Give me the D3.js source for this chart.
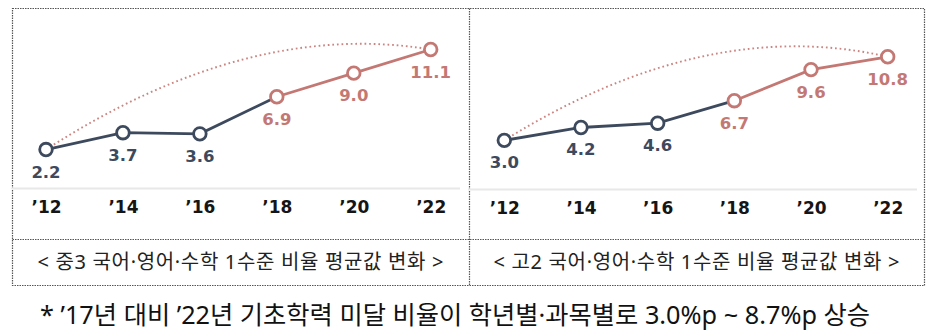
<!DOCTYPE html>
<html><head><meta charset="utf-8">
<script src="https://cdn.jsdelivr.net/npm/d3@7"></script>
<style>
html,body{margin:0;padding:0;background:#fff;}
svg{display:block;}
</style></head>
<body>
<svg id="c" width="936" height="335"></svg>
<script>
const years = ["’12","’14","’16","’18","’20","’22"];
const middle3 = [2.2, 3.7, 3.6, 6.9, 9.0, 11.1];
const high2 = [3.0, 4.2, 4.6, 6.7, 9.6, 10.8];
const captions = ["< 중3 국어·영어·수학 1수준 비율 평균값 변화 >", "< 고2 국어·영어·수학 1수준 비율 평균값 변화 >"];
const arcPeak = [13.8, 14.7];
const footnote = "* ’17년 대비 ’22년 기초학력 미달 비율이 학년별·과목별로 3.0%p ~ 8.7%p 상승";
const splitIndex = 3; // from '18 on, highlighted colour

const NAVY = "#3d4a5e", PINK = "#c47873";
const KFONT = "'Noto Sans', 'Noto Sans CJK KR', sans-serif";
const svg = d3.select("#c");

// frame
const frame = svg.append("g").attr("fill","none").attr("stroke","#555").attr("stroke-width",1.2).attr("stroke-dasharray","1.5 1");
frame.append("rect").attr("x",12.5).attr("y",8.5).attr("width",912).attr("height",277);
frame.append("line").attr("x1",469.5).attr("x2",469.5).attr("y1",8.5).attr("y2",285.5);
frame.append("line").attr("x1",12.5).attr("x2",924.5).attr("y1",239.5).attr("y2",239.5);

const panels = [
  {data: middle3, x0: 46, x1: 430.7, y0: 174.3, y12: 39.4, left: 12, right: 460, base: 188.5, cx: 240.5, cap: captions[0], peak: arcPeak[0]},
  {data: high2, x0: 504.3, x1: 887.7, y0: 172.5, y12: 43.9, left: 468, right: 917, base: 189.5, cx: 696.5, cap: captions[1], peak: arcPeak[1]}
];

panels.forEach(p => {
  const g = svg.append("g");
  const x = d3.scalePoint().domain(years).range([p.x0, p.x1]);
  const y = d3.scaleLinear().domain([0, 12]).range([p.y0, p.y12]);
  const pts = years.map((yr, i) => ({yr, v: p.data[i], i}));

  // baseline
  g.append("line").attr("x1", p.left).attr("x2", p.right).attr("y1", p.base).attr("y2", p.base)
    .attr("stroke", "#e8e8e8").attr("stroke-width", 2);

  // x axis labels
  const ax = d3.axisBottom(x).tickSize(0).tickPadding(0);
  const axg = g.append("g").attr("transform", `translate(0,${p.base})`).call(ax);
  axg.select(".domain").remove();
  axg.selectAll("text").attr("dy", null).attr("y", 24.5)
    .attr("font-family", "DejaVu Sans").attr("font-weight", "bold").attr("font-size", 17).attr("fill", "#151515");

  // dotted arc
  const s = pts[0], e = pts[pts.length - 1];
  const path = d3.path();
  path.moveTo(x(s.yr), y(s.v));
  path.quadraticCurveTo((x(s.yr) + x(e.yr)) / 2 + 10, y(p.peak), x(e.yr), y(e.v));
  g.append("path").attr("d", path.toString()).attr("fill", "none").attr("stroke", PINK)
    .attr("stroke-width", 1.9).attr("stroke-dasharray", "1.7 2.9").attr("opacity", 0.9);

  // lines
  const line = d3.line().x(d => x(d.yr)).y(d => y(d.v));
  g.append("path").attr("d", line(pts.slice(0, splitIndex + 1))).attr("fill", "none").attr("stroke", NAVY).attr("stroke-width", 2.8);
  g.append("path").attr("d", line(pts.slice(splitIndex))).attr("fill", "none").attr("stroke", PINK).attr("stroke-width", 2.8);

  // points
  g.selectAll("circle.pt").data(pts).join("circle").attr("class", "pt")
    .attr("cx", d => x(d.yr)).attr("cy", d => y(d.v)).attr("r", 6.3)
    .attr("fill", "#fff").attr("stroke", d => d.i >= splitIndex ? PINK : NAVY).attr("stroke-width", 2.8);

  // value labels
  g.selectAll("text.val").data(pts).join("text").attr("class", "val")
    .attr("x", d => x(d.yr)).attr("y", d => y(d.v) + 28)
    .attr("text-anchor", "middle").attr("font-family", "DejaVu Sans").attr("font-weight", "bold")
    .attr("font-size", 16.5).attr("fill", d => d.i >= splitIndex ? PINK : NAVY)
    .text(d => d.v.toFixed(1));

  // caption
  g.append("text").attr("x", p.cx).attr("y", 269).attr("text-anchor", "middle")
    .attr("font-family", KFONT).attr("font-size", 20).attr("fill", "#222")
    .attr("textLength", 406).attr("lengthAdjust", "spacing")
    .text(p.cap);
});

svg.append("text").attr("x", 40).attr("y", 324)
  .attr("font-family", KFONT).attr("font-size", 25).attr("fill", "#111")
  .attr("textLength", 830).attr("lengthAdjust", "spacingAndGlyphs")
  .text(footnote);
</script>
</body></html>
